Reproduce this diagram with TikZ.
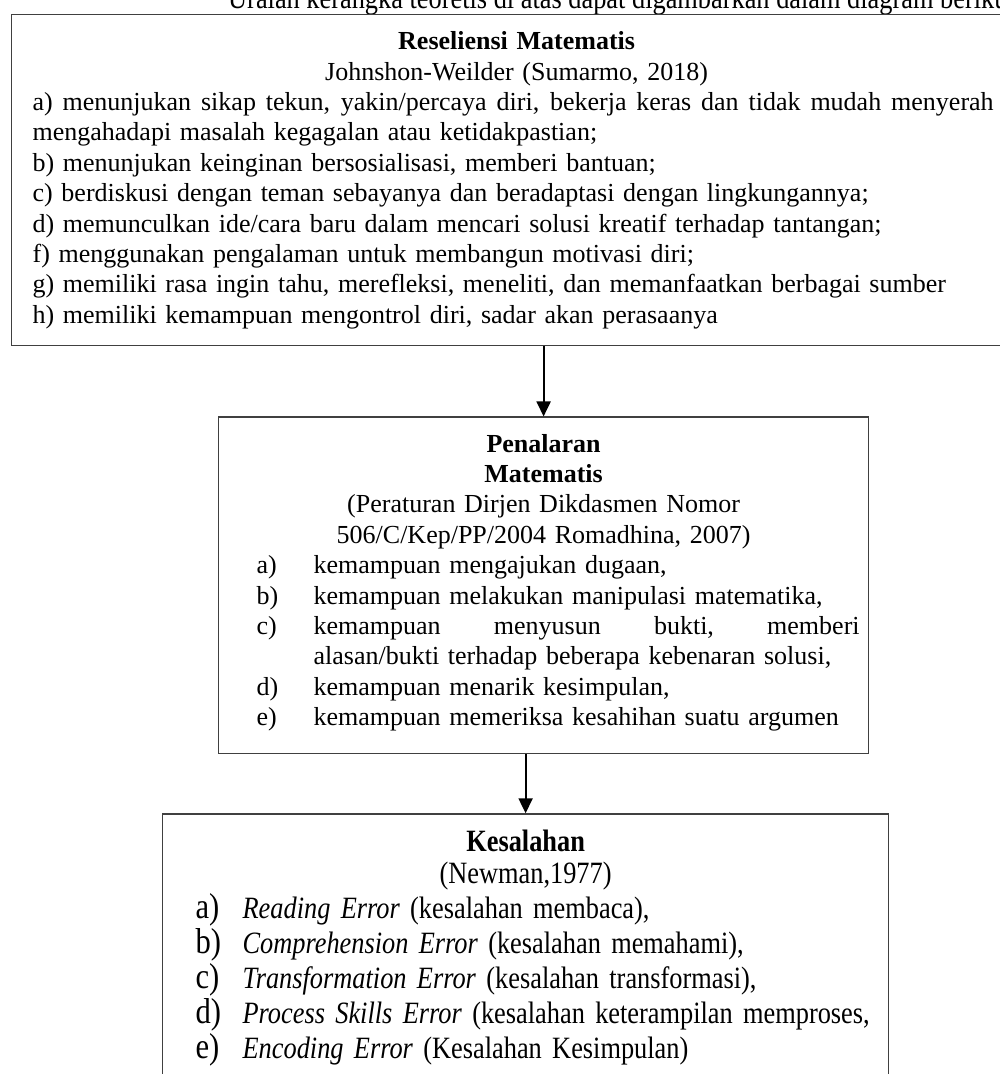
\documentclass[tikz,border=0pt]{standalone}
\usepackage{fontspec}
\setmainfont{Liberation Serif}
\newfontfamily\tinggi[FakeStretch=0.85]{Liberation Serif}
\usetikzlibrary{arrows.meta,positioning}
\hyphenpenalty=10000
\tikzset{
  kotak/.style  = {rectangle, draw=black!75, line width=1.2pt, align=left,
                   inner ysep=17pt, font=\fontsize{26}{30.4}\selectfont},
  kotakt/.style = {rectangle, draw=black!75, line width=1.2pt, align=left,
                   inner ysep=16pt, font=\tinggi\fontsize{31}{35}\selectfont},
  fl/.style     = {-{Triangle[length=15pt,width=14pt]}, line width=2pt, black},
}

\begin{document}
\begin{tikzpicture}
  \useasboundingbox (-11pt,14pt) rectangle (989pt,-1060pt);
  \clip (-11pt,14pt) rectangle (989pt,-1060pt);
  \node[anchor=base west, inner sep=0pt, font=\tinggi\fontsize{31}{35}\selectfont] (cap) at (217pt,6pt) {Uraian kerangka teoretis di atas dapat digambarkan dalam diagram berikut};
  \node[kotak, anchor=north west, text width=968pt, inner xsep=21pt] (res) at (0,0) {%
    {\centering\textbf{Reseliensi Matematis}\\ Johnshon-Weilder (Sumarmo, 2018)\par}
    \noindent{\spaceskip=0.25em plus 1em\hbox to 961pt{a) menunjukan sikap tekun, yakin/percaya diri, bekerja keras dan tidak mudah menyerah}}\\
    mengahadapi masalah kegagalan atau ketidakpastian;\\
    b) menunjukan keinginan bersosialisasi, memberi bantuan;\\
    c) berdiskusi dengan teman sebayanya dan beradaptasi dengan lingkungannya;\\
    d) memunculkan ide/cara baru dalam mencari solusi kreatif terhadap tantangan;\\
    f) menggunakan pengalaman untuk membangun motivasi diri;\\
    g) memiliki rasa ingin tahu, merefleksi, meneliti, dan memanfaatkan berbagai sumber\\
    h) memiliki kemampuan mengontrol diri, sadar akan perasaanya};
  \node[kotak, text width=636pt, inner xsep=7pt, below=70pt of res, xshift=27pt] (pen) {%
    {\centering\textbf{Penalaran}\\ \textbf{Matematis}\\ (Peraturan Dirjen Dikdasmen Nomor\\ 506/C/Kep/PP/2004 Romadhina, 2007)\par}
    \noindent\hspace*{31pt}\makebox[57pt][l]{a)}kemampuan mengajukan dugaan,\\
    \hspace*{31pt}\makebox[57pt][l]{b)}kemampuan melakukan manipulasi matematika,\\
    \hspace*{31pt}\makebox[57pt][l]{c)}\makebox[546pt][l]{kemampuan\hfill menyusun\hfill bukti,\hfill memberi}\\
    \hspace*{88pt}alasan/bukti terhadap beberapa kebenaran solusi,\\
    \hspace*{31pt}\makebox[57pt][l]{d)}kemampuan menarik kesimpulan,\\
    \hspace*{31pt}\makebox[57pt][l]{e)}kemampuan memeriksa kesahihan suatu argumen\rule[-11pt]{0pt}{1pt}};
  \node[kotakt, text width=702pt, inner xsep=12pt, below=59pt of pen, xshift=-18pt] (kes) {%
    {\centering\textbf{Kesalahan}\\[-3pt] (Newman,1977)\par}
    \noindent\hspace*{21pt}\makebox[47pt][l]{\fontsize{36}{35}\selectfont a)}\textit{Reading Error} (kesalahan membaca),\\
    \hspace*{21pt}\makebox[47pt][l]{\fontsize{36}{35}\selectfont b)}\textit{Comprehension Error} (kesalahan memahami),\\
    \hspace*{21pt}\makebox[47pt][l]{\fontsize{36}{35}\selectfont c)}\textit{Transformation Error} (kesalahan transformasi),\\
    \hspace*{21pt}\makebox[47pt][l]{\fontsize{36}{35}\selectfont d)}\textit{Process Skills Error} (kesalahan keterampilan memproses,\\
    \hspace*{21pt}\makebox[47pt][l]{\fontsize{36}{35}\selectfont e)}\textit{Encoding Error} (Kesalahan Kesimpulan)\rule[-60pt]{0pt}{1pt}};
  \draw[fl] (res.south -| pen.north) -- (pen.north);
  \draw[fl] (pen.south -| kes.north) -- (kes.north);
\end{tikzpicture}
\end{document}
